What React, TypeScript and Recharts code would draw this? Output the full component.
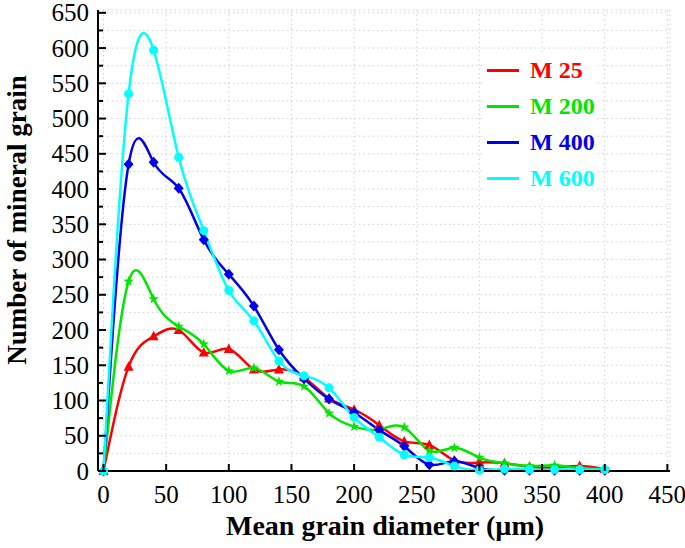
import { CartesianGrid, Legend, Line, LineChart, XAxis, YAxis } from 'recharts';

const DIAMETERS = [0, 20, 40, 60, 80, 100, 120, 140, 160, 180, 200, 220, 240, 260, 280, 300, 320, 340, 360, 380, 400];
const M25 = [0, 148, 191, 200, 168, 173, 144, 144, 133, 103, 87, 65, 42, 37, 15, 12, 11, 6, 5, 7, 3];
const M200 = [0, 269, 244, 205, 180, 142, 146, 127, 120, 82, 63, 59, 62, 29, 33, 19, 11, 7, 8, 4, 3];
const M400 = [0, 435, 438, 401, 328, 279, 234, 172, 131, 102, 83, 58, 35, 9, 14, 4, 1, 1, 1, 1, 1];
const M600 = [0, 535, 597, 445, 341, 256, 213, 156, 135, 118, 76, 48, 23, 19, 7, 1, 3, 2, 2, 2, 2];

const X_TICKS = [0, 50, 100, 150, 200, 250, 300, 350, 400, 450];
const Y_TICKS = Array.from({ length: 27 }, (_, i) => i * 25);

const FONT = 'Liberation Serif, Times New Roman, serif';

type Marker = 'triangle' | 'star' | 'diamond' | 'circle';

const SERIES: { key: string; name: string; color: string; marker: Marker; values: number[] }[] = [
  { key: 'm25', name: 'M 25', color: '#ff0000', marker: 'triangle', values: M25 },
  { key: 'm200', name: 'M 200', color: '#00e600', marker: 'star', values: M200 },
  { key: 'm400', name: 'M 400', color: '#0000ee', marker: 'diamond', values: M400 },
  { key: 'm600', name: 'M 600', color: '#00ffff', marker: 'circle', values: M600 },
];

const rows = DIAMETERS.map((d, i) => {
  const row: Record<string, number> = { diameter: d };
  SERIES.forEach((s) => {
    row[s.key] = s.values[i];
  });
  return row;
});

function starPoints(cx: number, cy: number, outer: number, inner: number) {
  const pts: string[] = [];
  for (let i = 0; i < 10; i++) {
    const r = i % 2 === 0 ? outer : inner;
    const a = -Math.PI / 2 + (i * Math.PI) / 5;
    pts.push(`${cx + r * Math.cos(a)},${cy + r * Math.sin(a)}`);
  }
  return pts.join(' ');
}

function makeDot(marker: Marker, color: string) {
  return (props: any) => {
    const { cx, cy, index } = props;
    const k = `${marker}-${index}`;
    if (cx == null || cy == null) return <g key={k} />;
    if (marker === 'triangle')
      return <polygon key={k} points={`${cx},${cy - 5.5} ${cx - 5},${cy + 4} ${cx + 5},${cy + 4}`} fill={color} />;
    if (marker === 'diamond')
      return <polygon key={k} points={`${cx},${cy - 5.5} ${cx + 5},${cy} ${cx},${cy + 5.5} ${cx - 5},${cy}`} fill={color} />;
    if (marker === 'star') return <polygon key={k} points={starPoints(cx, cy, 5.5, 2.2)} fill={color} />;
    return <circle key={k} cx={cx} cy={cy} r={4.5} fill={color} />;
  };
}

const textStyle = { fontFamily: FONT };

const BottomTick = ({ x, y, payload }: any) => (
  <g>
    <line x1={x} y1={y} x2={x} y2={y - 7} stroke="#000" strokeWidth={2} />
    <text x={x} y={y + 32} textAnchor="middle" style={textStyle} fontSize={25} fill="#000">
      {payload.value}
    </text>
  </g>
);

const TopTick = ({ x, y }: any) => <line x1={x} y1={y} x2={x} y2={y + 7} stroke="#000" strokeWidth={2} />;

const LeftTick = ({ x, y, payload }: any) => {
  const major = payload.value % 50 === 0;
  return (
    <g>
      <line x1={x} y1={y} x2={x + (major ? 8 : 5)} y2={y} stroke="#000" strokeWidth={2} />
      {major && (
        <text x={x - 9} y={y + 8.5} textAnchor="end" style={textStyle} fontSize={25} fill="#000">
          {payload.value}
        </text>
      )}
    </g>
  );
};

const RightTick = ({ x, y, payload }: any) => {
  const major = payload.value % 50 === 0;
  return <line x1={x} y1={y} x2={x - (major ? 8 : 5)} y2={y} stroke="#000" strokeWidth={2} />;
};

const LegendBox = () => (
  <div style={{ background: '#fff', width: 112 }}>
    {SERIES.map((s) => (
      <div key={s.key} style={{ height: 36, display: 'flex', alignItems: 'center' }}>
        <div style={{ width: 32, height: 3, background: s.color, marginLeft: 2 }} />
        <span
          style={{ marginLeft: 11, color: s.color, fontFamily: FONT, fontWeight: 'bold', fontSize: 24, lineHeight: '36px' }}
        >
          {s.name}
        </span>
      </div>
    ))}
  </div>
);

export default function App() {
  return (
    <div style={{ position: 'absolute', left: 0, top: 0, width: 685, height: 548, background: '#fff' }}>
      <LineChart width={685} height={548} data={rows} margin={{ top: 10, right: 15, bottom: 0, left: 0 }}>
        <CartesianGrid stroke="#d0d0d0" strokeDasharray="1.5 3" />
        <XAxis
          dataKey="diameter"
          type="number"
          domain={[-4.4, 452.1]}
          ticks={X_TICKS}
          height={77}
          tickSize={0}
          tickMargin={0}
          tickLine={false}
          axisLine={{ stroke: '#000', strokeWidth: 2 }}
          tick={BottomTick}
          interval={0}
          label={() => (
            <text x={385} y={535} textAnchor="middle" style={textStyle} fontWeight="bold" fontSize={28} fill="#000">
              Mean grain diameter (µm)
            </text>
          )}
        />
        <XAxis
          xAxisId="top"
          orientation="top"
          dataKey="diameter"
          type="number"
          domain={[-4.4, 452.1]}
          ticks={X_TICKS}
          height={0}
          tickSize={0}
          tickMargin={0}
          tickLine={false}
          axisLine={{ stroke: '#000', strokeWidth: 2 }}
          tick={TopTick}
          interval={0}
        />
        <YAxis
          type="number"
          domain={[0, 654]}
          ticks={Y_TICKS}
          width={98}
          tickSize={0}
          tickMargin={0}
          tickLine={false}
          axisLine={{ stroke: '#000', strokeWidth: 2 }}
          tick={LeftTick}
          interval={0}
          label={() => (
            <text
              x={0}
              y={0}
              transform="translate(26, 220) rotate(-90)"
              textAnchor="middle"
              style={textStyle}
              fontWeight="bold"
              fontSize={27}
              fill="#000"
            >
              Number of mineral grain
            </text>
          )}
        />
        <YAxis
          yAxisId="right"
          orientation="right"
          type="number"
          domain={[0, 654]}
          ticks={Y_TICKS}
          width={0}
          tickSize={0}
          tickMargin={0}
          tickLine={false}
          axisLine={{ stroke: '#000', strokeWidth: 2 }}
          tick={RightTick}
          interval={0}
        />
        <Legend
          layout="vertical"
          align="center"
          verticalAlign="middle"
          wrapperStyle={{ left: 485, top: 52, width: 112 }}
          content={() => <LegendBox />}
        />
        {SERIES.map((s) => (
          <Line
            key={s.key}
            dataKey={s.key}
            name={s.name}
            type="natural"
            stroke={s.color}
            strokeWidth={2.5}
            dot={makeDot(s.marker, s.color)}
            activeDot={false}
            isAnimationActive={false}
          />
        ))}
      </LineChart>
    </div>
  );
}
